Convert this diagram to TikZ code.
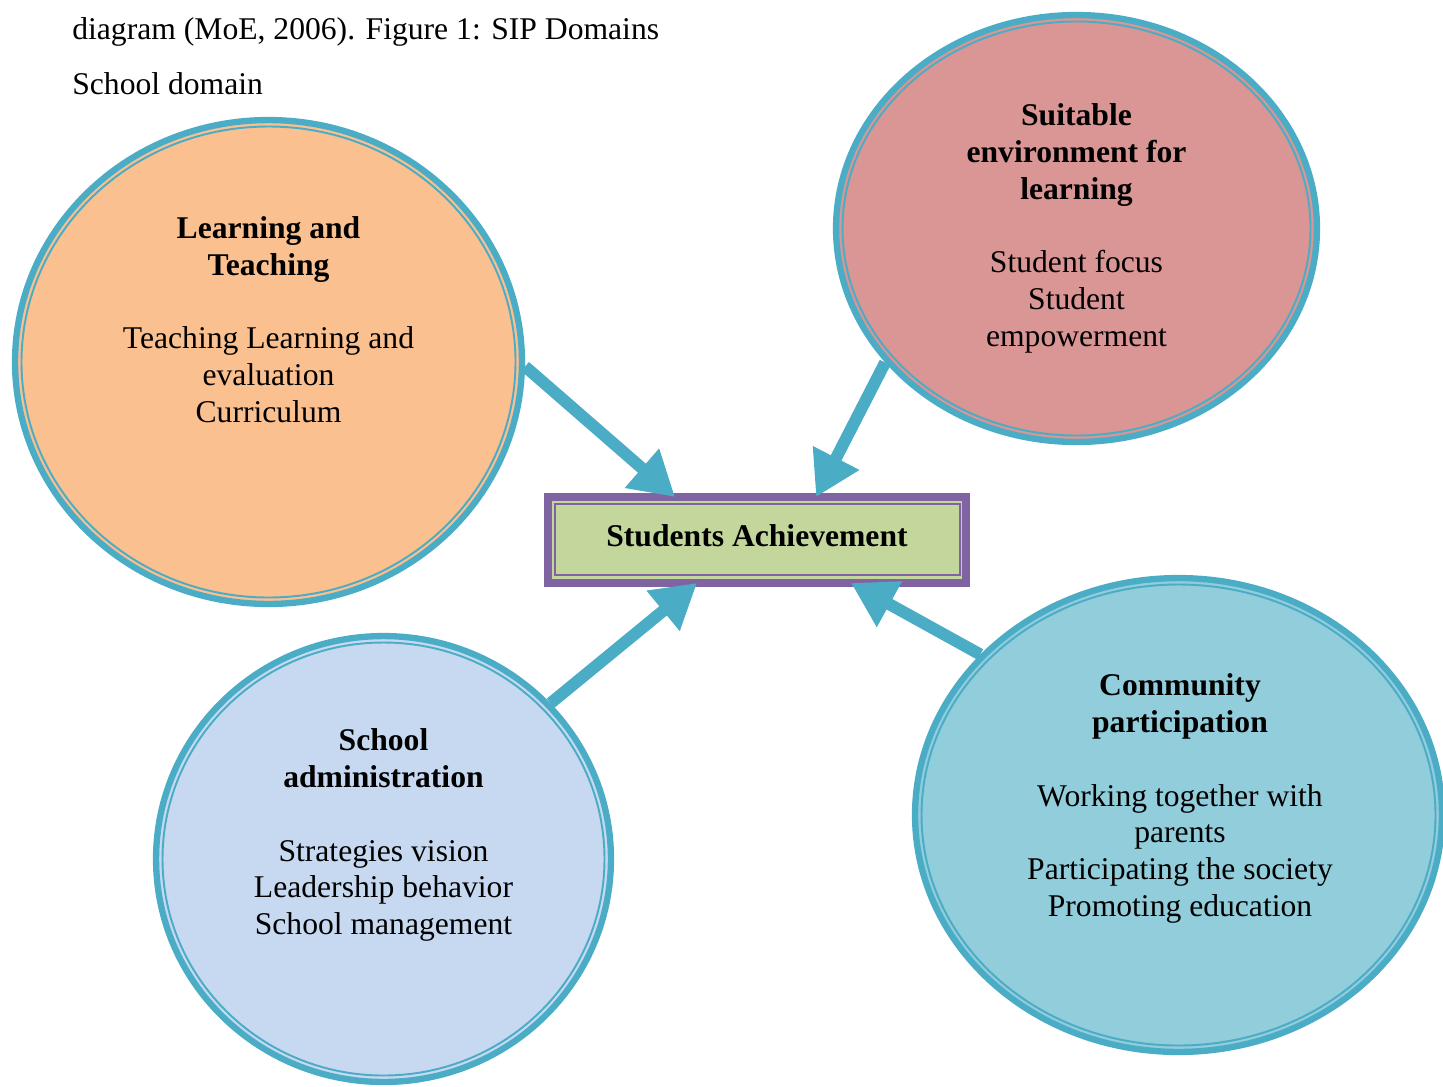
\documentclass[tikz,border=0pt]{standalone}
\usepackage{fontspec}
\setmainfont{Liberation Serif}
\usetikzlibrary{shapes.geometric,arrows.meta,calc}
\definecolor{bordblue}{HTML}{4BACC6}
\definecolor{fillorange}{HTML}{FAC090}
\definecolor{fillpink}{HTML}{D99694}
\definecolor{filllight}{HTML}{C6D9F1}
\definecolor{fillteal}{HTML}{92CDDC}
\definecolor{boxgreen}{HTML}{C3D69B}
\definecolor{boxpurple}{HTML}{8064A2}

\begin{document}
\begin{tikzpicture}[x=0.02cm,y=-0.02cm,
  txt/.style={font=\fontsize{18pt}{21pt}\selectfont, align=center, inner sep=0pt},
  plain/.style={font=\fontsize{18pt}{21pt}\selectfont, inner sep=0pt},
  areaoval/.style={ellipse, draw=bordblue, line width=3.6pt, inner sep=0pt},
  innerring/.style={draw=bordblue, line width=1.1pt},
  link/.style={draw=bordblue, line width=6.8pt, -{Triangle[length=25pt,width=28pt]}},
  goalbox/.style={rectangle, draw=boxpurple, fill=boxgreen, line width=4.5pt,
    inner sep=0pt, outer sep=0pt, minimum width=8.36cm, minimum height=1.72cm},
]
\useasboundingbox (0,0) rectangle (1443,1086);
\clip (0,0) rectangle (1443,1086);

% caption lines
\node[plain, anchor=base west] (cap1) at (72,39) {diagram (MoE, 2006). Figure 1: SIP Domains};
\node[plain, anchor=base west] (cap2) at (72,94) {School domain};

% four domains
\node[areaoval, fill=fillorange, minimum width=10.14cm, minimum height=9.68cm] (lt) at (268.5,362) {};
\draw[innerring] (lt.center) ellipse (247 and 235.5);

\node[areaoval, fill=fillpink, minimum width=9.62cm, minimum height=8.54cm] (env) at (1076.5,228.5) {};
\draw[innerring] (env.center) ellipse (234 and 207);

\node[areaoval, fill=filllight, minimum width=9.1cm, minimum height=8.92cm] (adm) at (383.5,859) {};
\draw[innerring] (adm.center) ellipse (221 and 216.5);

\node[areaoval, fill=fillteal, minimum width=10.54cm, minimum height=9.48cm] (com) at (1178.5,815) {};
\draw[innerring] (com.center) ellipse (257 and 230.5);

% domain texts
\node[txt, anchor=north] (ltt) at (268.5,216) {\textbf{Learning and}\\\textbf{Teaching}\\[21pt]
  Teaching Learning and\\evaluation\\Curriculum};
\node[txt, anchor=north] (envt) at (1076.5,103) {\textbf{Suitable}\\\textbf{environment for}\\\textbf{learning}\\[21pt]
  Student focus\\Student\\empowerment};
\node[txt, anchor=north] (admt) at (383.5,728) {\textbf{School}\\\textbf{administration}\\[21pt]
  Strategies vision\\Leadership behavior\\School management};
\node[txt, anchor=north] (comt) at (1180,673) {\textbf{Community}\\\textbf{participation}\\[21pt]
  Working together with\\parents\\Participating the society\\Promoting education};

% central goal: thick frame with a thin inner line
\node[goalbox] (sa) at (757,540) {};
\draw[boxpurple, line width=1.3pt] ($(sa.north west)+(7,7)$) rectangle ($(sa.south east)+(-6,-8)$);
\node[plain, font=\fontsize{18pt}{21pt}\selectfont\bfseries] (sat) at (757,536) {Students Achievement};

% arrow targets on the box edges
\coordinate (t1) at ($(sa.north west)+(127,0)$);
\coordinate (t2) at ($(sa.north west)+(268,0)$);
\coordinate (t3) at ($(sa.south west)+(149,0)$);
\coordinate (t4) at ($(sa.south west)+(303,0)$);

\draw[link] (lt.-1.1) -- (t1);
\draw[link] (env.215.5) -- (t2);
\draw[link] (adm.43.7) -- (t3);
\draw[link] (com.141.4) -- (t4);
\end{tikzpicture}
\end{document}
